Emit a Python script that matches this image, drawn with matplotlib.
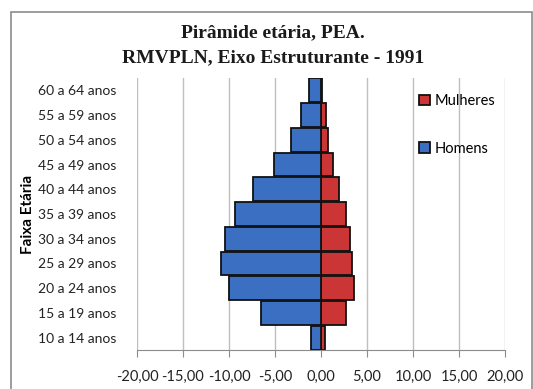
import numpy as np
import matplotlib
matplotlib.use('Agg')
import matplotlib.pyplot as plt
from matplotlib.patches import Rectangle

# dados (% da PEA)
faixas = ['10 a 14 anos', '15 a 19 anos', '20 a 24 anos', '25 a 29 anos',
          '30 a 34 anos', '35 a 39 anos', '40 a 44 anos', '45 a 49 anos',
          '50 a 54 anos', '55 a 59 anos', '60 a 64 anos']
homens = [-1.1, -6.5, -10.0, -10.9, -10.4, -9.3, -7.4, -5.1, -3.3, -2.2, -1.3]
mulheres = [0.4, 2.75, 3.55, 3.4, 3.1, 2.7, 2.0, 1.3, 0.8, 0.5, 0.1]
xticks = [-20, -15, -10, -5, 0, 5, 10, 15, 20]

azul = '#3A6FC2'
vermelho = '#CC3535'

fig = plt.figure(figsize=(5.33, 3.89), dpi=100)
fig.patches.append(Rectangle((11 / 533, -0.01), 521 / 533, 1 - 12 / 389 + 0.01,
                             transform=fig.transFigure, fill=False,
                             edgecolor='#8C8C8C', linewidth=1.2))

ax = fig.add_axes([137 / 533, 1 - 350 / 389, 368 / 533, 272 / 389])
y = np.arange(len(faixas))

ax.axvline(0, color='#8C8C8C', linewidth=1, zorder=1)
ax.barh(y, homens, height=0.96, color=azul, edgecolor='#111111', linewidth=1.3,
        label='Homens', zorder=3)
ax.barh(y, mulheres, height=0.96, color=vermelho, edgecolor='#111111', linewidth=1.3,
        label='Mulheres', zorder=2)

ax.set_xlim(-20, 20)
ax.set_ylim(-0.5, len(faixas) - 0.5)
ax.set_xticks(xticks)
ax.set_xticklabels([f'{v:.2f}'.replace('.', ',') for v in xticks],
                   fontsize=10.5, family='Lato', color='#222222')
ax.set_yticks(y)
ax.set_yticklabels(faixas, fontsize=10, family='Lato', color='#222222')
ax.tick_params(axis='y', length=0, pad=15)
ax.tick_params(axis='x', length=5, color='#8C8C8C', pad=9)
ax.grid(axis='x', color='#BFBFBF', linewidth=1)
ax.set_axisbelow(True)
for s in ['top', 'right']:
    ax.spines[s].set_visible(False)
ax.spines['left'].set_visible(False)
ax.spines['bottom'].set_color('#8C8C8C')

ax.set_ylabel('Faixa Etária', fontsize=11, family='Lato', fontweight='bold')
ax.yaxis.set_label_coords(-(137 - 35) / 368, 0.5)

h, l = ax.get_legend_handles_labels()
leg = ax.legend(h[::-1], l[::-1], loc='upper left', bbox_to_anchor=(276 / 368, 0.962),
                frameon=False, prop={'family': 'Lato', 'size': 10.5},
                labelspacing=2.3, handlelength=0.75, handleheight=0.75,
                handletextpad=0.3, borderaxespad=0)

fig.text(0.5 * (122 + 424) / 533, 1 - 33 / 389, 'Pirâmide etária, PEA.',
         ha='center', va='center', fontsize=14, fontweight='bold',
         family='Liberation Serif', color='#1a1a1a')
fig.text(0.5 * (122 + 424) / 533, 1 - 58 / 389, 'RMVPLN, Eixo Estruturante - 1991',
         ha='center', va='center', fontsize=14, fontweight='bold',
         family='Liberation Serif', color='#1a1a1a')

fig.savefig('out.png', dpi=100)
